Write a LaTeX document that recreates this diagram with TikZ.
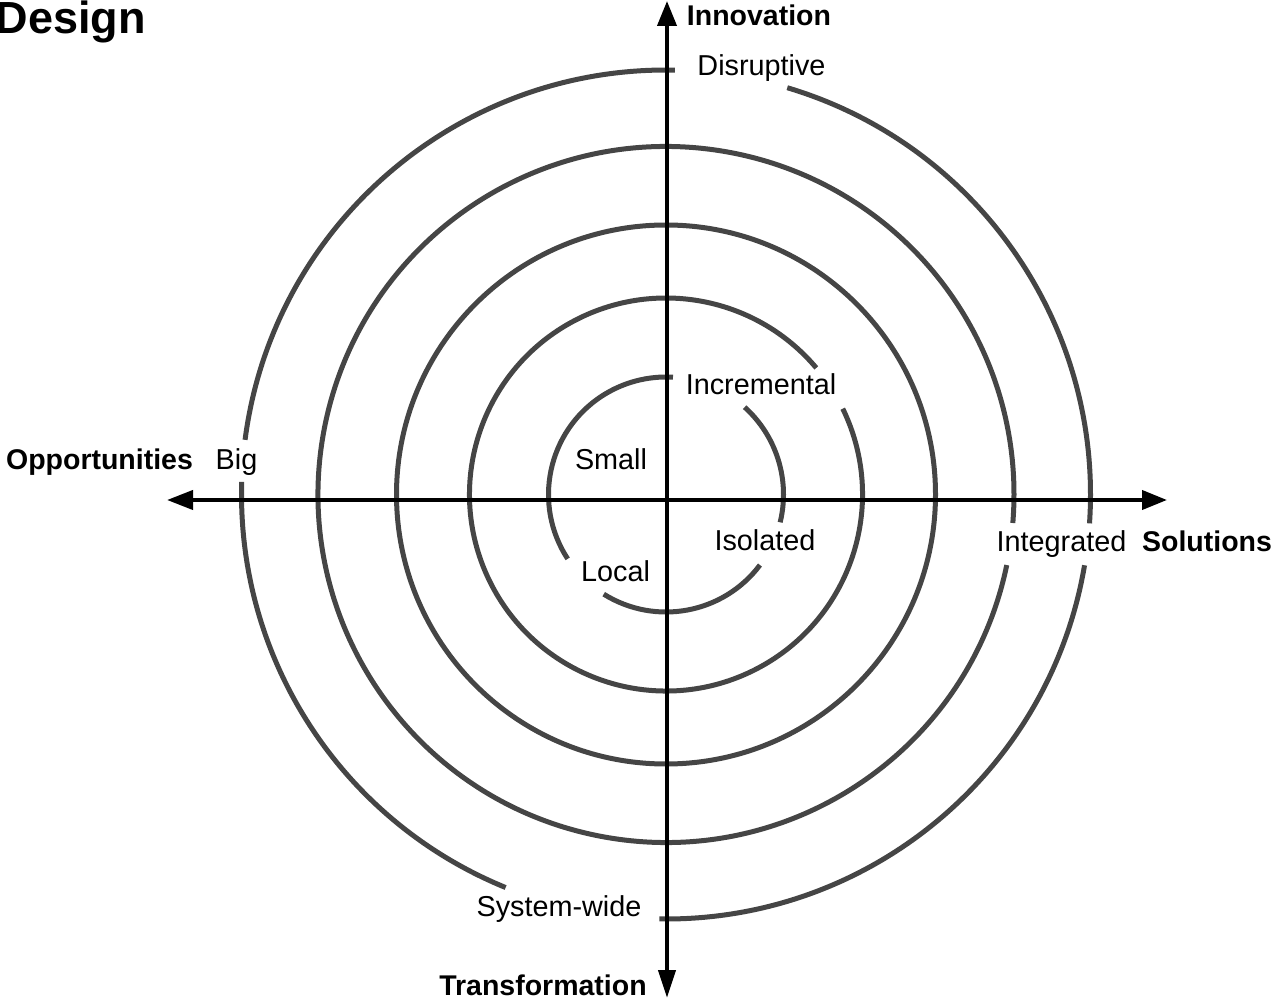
\documentclass[tikz,border=0pt]{standalone}
\usepackage{fontspec}
\setmainfont{Liberation Sans}
\usetikzlibrary{arrows.meta}
\definecolor{ringgray}{HTML}{454545}
% one piece of a ring: radius, start angle, end angle (angles grow clockwise on the page)
\newcommand{\ringarc}[3]{\draw[ring] ([shift={(C)}]#2:#1) arc[start angle=#2, end angle=#3, radius=#1];}
\begin{document}
\begin{tikzpicture}[x=0.5pt,y=-0.5pt,
  ring/.style={draw=ringgray,line width=2.5pt},
  axis/.style={draw=black,line width=2pt},
  lbl/.style={inner sep=0pt,anchor=base,font=\fontsize{14.4}{17}\selectfont},
  head/.style={inner sep=0pt,anchor=base,font=\fontsize{14.25}{17}\selectfont\bfseries},
  title/.style={inner sep=0pt,anchor=base east,font=\fontsize{22.5}{27}\selectfont\bfseries}]
\useasboundingbox (0,0) rectangle (1274,999);

\coordinate (C) at (666,494.5);

% rings, innermost first, broken where the labels sit
\ringarc{117.5}{-48}{13.7}
\ringarc{117.5}{36.9}{122}
\ringarc{117.5}{146.8}{273.4}
\ringarc{196.5}{-25.9}{319.9}
\draw[ring] (C) circle[radius=269.5];
\ringarc{348}{11.7}{364.7}
\ringarc{424.5}{-73.4}{3.9}
\ringarc{424.5}{9.6}{90.9}
\ringarc{424.5}{112.2}{181.7}
\ringarc{424.5}{187.4}{271.2}

% axes
\coordinate (W) at (167,500);
\coordinate (E) at (1167,500);
\coordinate (N) at (667,1);
\coordinate (S) at (667,998);
\draw[axis,{Triangle[length=13pt,width=9.5pt]}-{Triangle[length=12.5pt,width=9.5pt]}] (W) -- (E);
\draw[axis,{Triangle[length=12.5pt,width=9.5pt]}-{Triangle[length=14pt,width=8.5pt]}] (N) -- (S);

% axis titles
\node[head] (innovation) at (759,26) {Innovation};
\node[head] (transformation) at (543,995) {Transformation};
\node[head] (opportunities) at (99.5,469.3) {Opportunities};
\node[head] (solutions) at (1207,551.7) {Solutions};
\node[title] (design) at (146,34) {Design};

% ring labels
\node[lbl] (disruptive) at (761.5,76) {Disruptive};
\node[lbl] (incremental) at (761,394.3) {Incremental};
\node[lbl] (small) at (611,469.3) {Small};
\node[lbl] (isolated) at (765,550.7) {Isolated};
\node[lbl] (local) at (615.5,581.7) {Local};
\node[lbl] (integrated) at (1061.5,551.7) {Integrated};
\node[lbl] (big) at (236.5,469.3) {Big};
\node[lbl] (systemwide) at (559,916) {System-wide};
\end{tikzpicture}
\end{document}
